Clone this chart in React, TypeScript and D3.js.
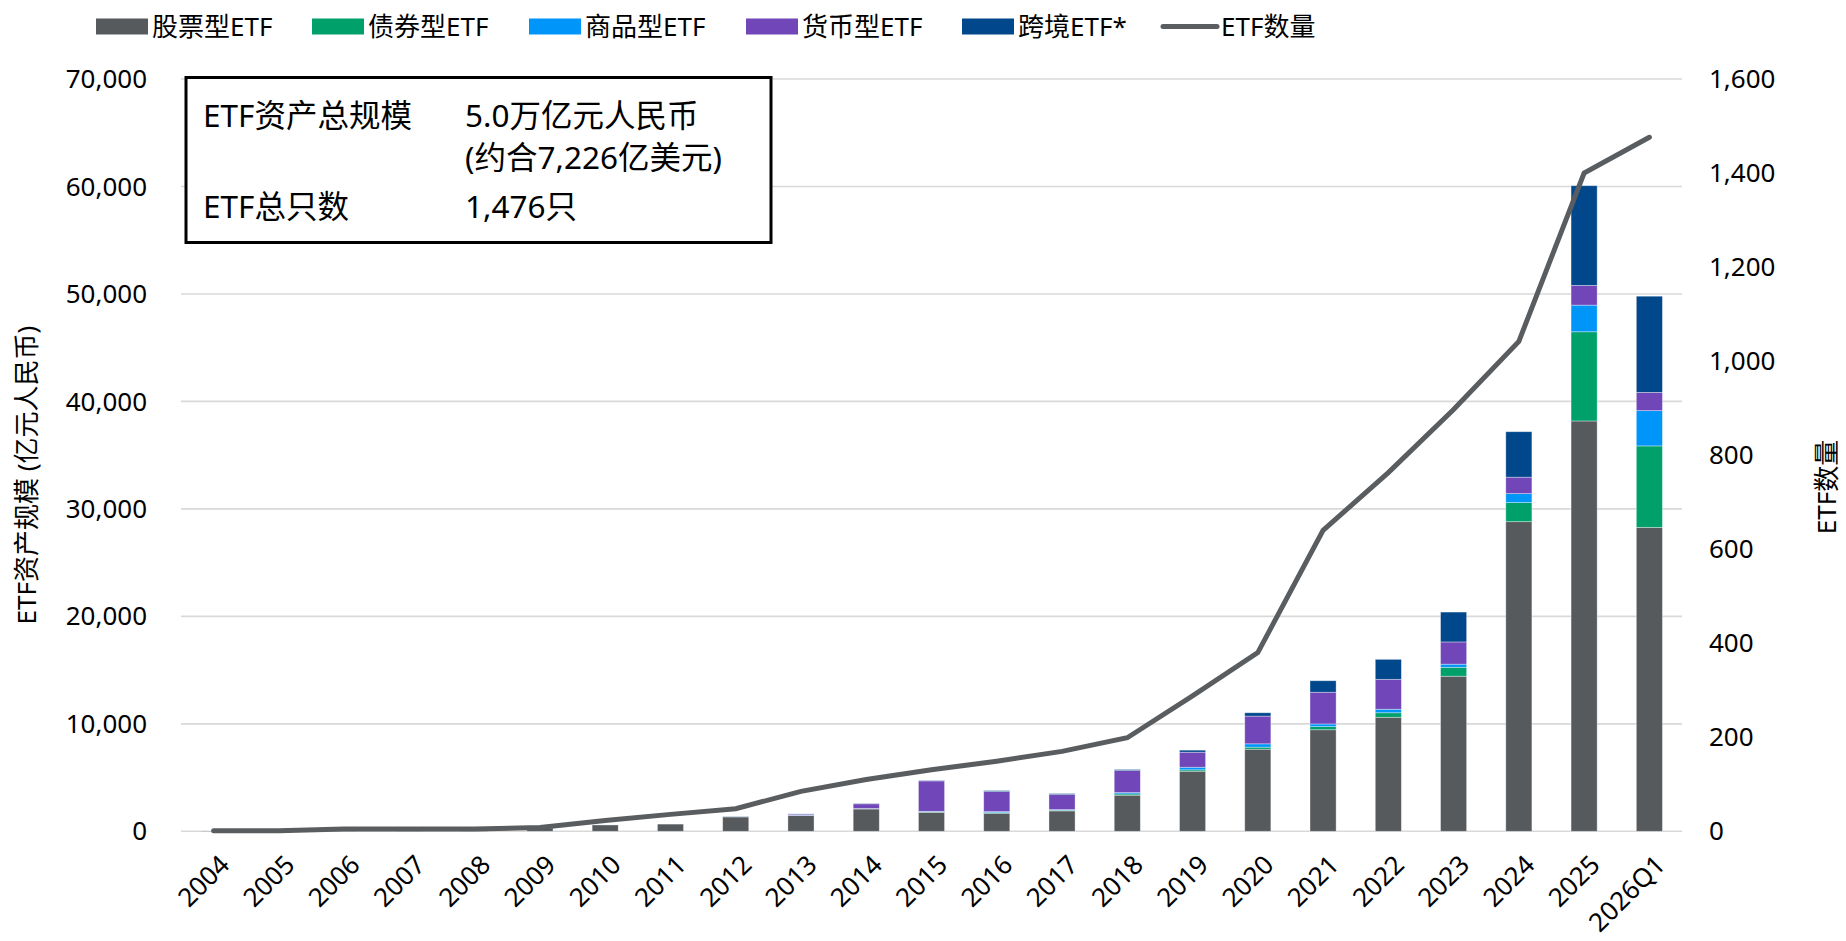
import React from "react";
import * as d3 from "d3";

const categories = ["2004","2005","2006","2007","2008","2009","2010","2011","2012","2013","2014","2015","2016","2017","2018","2019","2020","2021","2022","2023","2024","2025","2026Q1"];
const stockEtf = [30,60,120,150,120,300,590,670,1340,1460,2080,1770,1680,1900,3360,5590,7640,9450,10610,14430,28810,38180,28280];
const bondEtf = [0,0,0,0,0,0,0,0,0,0,20,40,60,60,120,130,190,290,420,830,1780,8300,7580];
const commodityEtf = [0,0,0,0,0,0,0,0,0,30,20,50,90,60,120,240,310,250,330,290,830,2480,3280];
const moneyEtf = [0,0,0,0,0,0,0,0,0,100,440,2830,1870,1400,2050,1400,2580,2950,2780,2070,1530,1830,1700];
const crossBorderEtf = [0,0,0,0,0,0,0,0,30,30,30,40,90,90,100,190,310,1070,1860,2780,4230,9280,8950];
const etfCount = [1,1,5,5,5,8,23,36,48,85,110,131,149,170,199,288,380,640,763,897,1042,1400,1476];

const leftTicks = [0,10000,20000,30000,40000,50000,60000,70000];
const rightTicks = [0,200,400,600,800,1000,1200,1400,1600];

const seriesKeys = ["stock","bond","commodity","money","cross"];
const seriesNames = ["股票型ETF","债券型ETF","商品型ETF","货币型ETF","跨境ETF*"];
const seriesColors = ["#575A5D","#00A06B","#0095F8","#7046B8","#00478C"];
const lineName = "ETF数量";
const lineColor = "#5A5D60";

const boxRows = [
  ["ETF资产总规模", "5.0万亿元人民币"],
  ["", "(约合7,226亿美元)"],
  ["ETF总只数", "1,476只"],
];

const FONT = "'Noto Sans', 'Noto Sans CJK SC', sans-serif";

export default function App() {
  const W = 1846, H = 941;
  const left = 181, right = 1682, top = 79, bottom = 831.3;
  const x = d3.scaleBand<string>().domain(categories).range([left, right]).padding(0);
  const bw = x.bandwidth();
  const barW = bw * 0.4;
  const y = d3.scaleLinear().domain([0, 70000]).range([bottom, top]);
  const y2 = d3.scaleLinear().domain([0, 1600]).range([bottom, top]);

  const rows = categories.map((c, i) => ({
    cat: c,
    stock: stockEtf[i],
    bond: bondEtf[i],
    commodity: commodityEtf[i],
    money: moneyEtf[i],
    cross: crossBorderEtf[i],
  }));
  const stacked = d3.stack<any>().keys(seriesKeys)(rows);

  const line = d3.line<number>()
    .x((_, i) => (x(categories[i]) as number) + bw / 2)
    .y((d) => y2(d));
  const fmt = d3.format(",");

  const legendX = [96, 312, 529, 746, 962];

  return (
    <svg width={W} height={H} style={{ position: "absolute", left: 0, top: 0, background: "#fff" }} fontFamily={FONT}>
      {/* gridlines */}
      {leftTicks.map((t) => (
        <line key={"g" + t} x1={left} x2={right} y1={y(t)} y2={y(t)} stroke="#D9D9D9" strokeWidth={1.6} />
      ))}
      {/* left tick labels */}
      {leftTicks.map((t) => (
        <text key={"l" + t} x={147} y={y(t)} dy="0.35em" textAnchor="end" fontSize={26} fill="#000">{fmt(t)}</text>
      ))}
      {/* right tick labels */}
      {rightTicks.map((t) => (
        <text key={"r" + t} x={1709} y={y2(t)} dy="0.35em" textAnchor="start" fontSize={26} fill="#000">{fmt(t)}</text>
      ))}
      {/* axis titles */}
      <text transform={`translate(36,475) rotate(-90)`} textAnchor="middle" fontSize={26} fill="#000">ETF资产规模 (亿元人民币)</text>
      <text transform={`translate(1836,487) rotate(-90)`} textAnchor="middle" fontSize={26} fill="#000">{lineName}</text>
      {/* x labels */}
      {categories.map((c) => (
        <text key={"x" + c} transform={`translate(${(x(c) as number) + bw / 2 + 11},${860}) rotate(-45)`} textAnchor="end" dy="0.35em" fontSize={26} fill="#000">{c}</text>
      ))}
      {/* bars */}
      {stacked.map((s, si) => (
        <g key={"s" + si} fill={seriesColors[si]}>
          {s.map((d, i) => {
            const h = y(d[0]) - y(d[1]);
            if (h <= 0) return null;
            return (
              <rect key={i} x={(x(categories[i]) as number) + bw / 2 - barW / 2} y={y(d[1])} width={barW} height={h} stroke="rgba(255,255,255,0.45)" strokeWidth={0.8} />
            );
          })}
        </g>
      ))}
      {/* line */}
      <path d={line(etfCount) || ""} fill="none" stroke={lineColor} strokeWidth={5} strokeLinecap="round" strokeLinejoin="miter" />
      {/* info box */}
      <rect x={186} y={77.5} width={585} height={165} fill="#fff" stroke="#000" strokeWidth={3} />
      {[127, 169, 218].map((by, i) => (
        <g key={"b" + i}>
          {boxRows[i][0] && <text x={203} y={by} fontSize={31.5} fill="#000">{boxRows[i][0]}</text>}
          <text x={465} y={by} fontSize={31.5} fill="#000">{boxRows[i][1]}</text>
        </g>
      ))}
      {/* legend */}
      {seriesNames.map((n, i) => (
        <g key={"lg" + i}>
          <rect x={legendX[i]} y={18.5} width={52} height={16} fill={seriesColors[i]} />
          <text x={legendX[i] + 56} y={26.5} dy="0.35em" fontSize={26} fill="#000">{n}</text>
        </g>
      ))}
      <line x1={1163} x2={1217} y1={26.5} y2={26.5} stroke={lineColor} strokeWidth={5} strokeLinecap="round" />
      <text x={1221} y={26.5} dy="0.35em" fontSize={26} fill="#000">{lineName}</text>
    </svg>
  );
}
